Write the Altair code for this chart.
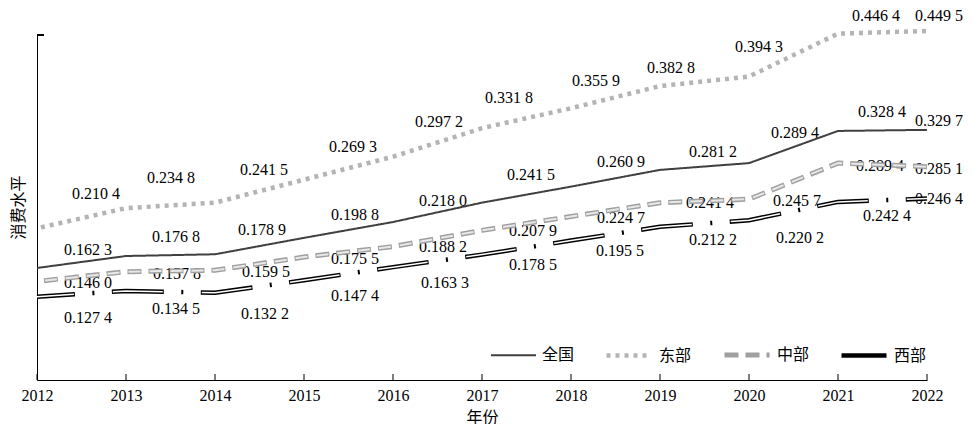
import altair as alt
import pandas as pd

# ---------------- data ----------------
years = list(range(2012, 2023))
series_names = ["全国", "东部", "中部", "西部"]
national = [0.1623, 0.1768, 0.1789, 0.1988, 0.2180, 0.2415, 0.2609, 0.2812, 0.2894, 0.3284, 0.3297]
east = [0.2104, 0.2348, 0.2415, 0.2693, 0.2972, 0.3318, 0.3559, 0.3828, 0.3943, 0.4464, 0.4495]
central = [0.1460, 0.1578, 0.1595, 0.1755, 0.1882, 0.2079, 0.2247, 0.2414, 0.2457, 0.2894, 0.2851]
west = [0.1274, 0.1345, 0.1322, 0.1474, 0.1633, 0.1785, 0.1955, 0.2122, 0.2202, 0.2424, 0.2464]

# label offsets (pixels, relative to each point)
label_dx = {
    "全国": [51, 50, 47, 51, 50, 49, 50, 53, 46, 44, 12],
    "东部": [59, 45, 49, 49, 46, 27, 25, 11, 10, 38, 12],
    "中部": [51, 51, 51, 51, 50, 51, 50, 50, 48, 42, 12],
    "西部": [51, 50, 50, 51, 52, 51, 49, 53, 51, 49, 12],
}
label_dy = {
    "全国": [-18, -19, -24, -23, -21, -28, -25, -18, -30, -19, -9],
    "东部": [-34, -30, -33, -33, -35, -30, -27, -18, -30, -18, -15],
    "中部": [2, 2, 2, 2, 0, 1, 2, 0, 2, 3, 2],
    "西部": [21, 18, 21, 16, 16, 10, 10, 13, 18, 14, 0],
}

values = {"全国": national, "东部": east, "中部": central, "西部": west}

W, H = 890, 345
Y_MIN, Y_MAX = 0.0265, 0.4447
PX_X = W / (years[-1] - years[0])
PX_Y = H / (Y_MAX - Y_MIN)

rows, lab_rows = [], []
for s in series_names:
    for i, (yr, v) in enumerate(zip(years, values[s])):
        rows.append({"year": yr, "value": v, "series": s})
        txt = f"{v:.4f}"
        txt = txt[:-1] + " " + txt[-1]
        lab_rows.append({
            "series": s,
            "lx": yr + label_dx[s][i] / PX_X,
            "ly": v - label_dy[s][i] / PX_Y,
            "label": txt,
        })
df = pd.DataFrame(rows)
lab = pd.DataFrame(lab_rows)
tick_df = pd.DataFrame({"year": years})

SERIF = "Liberation Serif"
CJK = "Liberation Serif, Noto Sans CJK SC"

xscale = alt.Scale(domain=[years[0], years[-1]], nice=False, zero=False)
yscale = alt.Scale(domain=[Y_MIN, Y_MAX], nice=False, zero=False)

x_enc = alt.X("year:Q", scale=xscale, axis=alt.Axis(
    values=years, format="d", labelFont=SERIF, labelFontSize=16, labelColor="#000",
    labelFlush=False, labelOverlap=False,
    ticks=False, grid=False, domainColor="#000", domainWidth=1, labelPadding=7,
    title="年份", titleFont=CJK, titleFontSize=16, titleFontWeight="normal", titleColor="#000",
    titleX=445, titleY=37, titleBaseline="middle", titleAlign="center"))
y_enc = alt.Y("value:Q", scale=yscale, axis=alt.Axis(
    labels=False, ticks=False, grid=False, domainColor="#000", domainWidth=1,
    title="消费水平", titleFont=CJK, titleFontSize=16, titleFontWeight="normal", titleColor="#000",
    titleAngle=270, titleX=-19, titleY=172, titleBaseline="middle", titleAlign="center"))

base = alt.Chart(df)

outer = base.mark_line(strokeCap="butt", strokeDashOffset=14).encode(
    x=x_enc, y=y_enc,
    color=alt.Color("series:N", sort=series_names,
                    scale=alt.Scale(domain=series_names, range=["#404040", "#b4b4b4", "#a0a0a0", "#000000"]),
                    legend=alt.Legend(orient="none", legendX=453, legendY=295, direction="horizontal",
                                      title=None, symbolType="stroke", symbolSize=2025,
                                      labelFont=CJK, labelFontSize=16, labelColor="#000",
                                      labelOffset=5, columnPadding=22, padding=0)),
    strokeDash=alt.StrokeDash("series:N", sort=series_names,
                              scale=alt.Scale(domain=series_names,
                                              range=[[1, 0], [4, 5], [14, 7], [52, 17.5, 2, 17.5]])),
    strokeWidth=alt.StrokeWidth("series:N", sort=series_names,
                                scale=alt.Scale(type="ordinal", domain=series_names, range=[2, 4.5, 5, 4.5])),
)

# light inner strokes that turn 中部 / 西部 into hollow double lines
inner_c = base.transform_filter(alt.datum.series == "中部").mark_line(
    strokeCap="butt", strokeDash=[12, 9], strokeDashOffset=13, strokeWidth=2, color="#e8e8e8"
).encode(x="year:Q", y="value:Q")

inner_w = base.transform_filter(alt.datum.series == "西部").mark_line(
    strokeCap="butt", strokeDash=[50, 39], strokeDashOffset=13, strokeWidth=1.5, color="#ffffff"
).encode(x="year:Q", y="value:Q")

labels = alt.Chart(lab).mark_text(font=SERIF, fontSize=16, color="#000", baseline="middle", align="center").encode(
    x="lx:Q", y="ly:Q", text="label:N")

xticks = alt.Chart(tick_df).mark_rule(color="#000", strokeWidth=1).encode(
    x="year:Q", y=alt.value(H - 6), y2=alt.value(H))

ytick = alt.Chart(tick_df).mark_rule(color="#000", strokeWidth=1).encode(
    x=alt.value(0), x2=alt.value(7), y=alt.value(0))

chart = alt.layer(labels, outer, inner_c, inner_w, xticks, ytick).properties(
    width=W, height=H, autosize="none",
    padding={"left": 29, "top": 27, "right": 36, "bottom": 44},
).configure_view(stroke=None)

chart.save("out.html", embed_options={"renderer": "svg", "actions": False})
